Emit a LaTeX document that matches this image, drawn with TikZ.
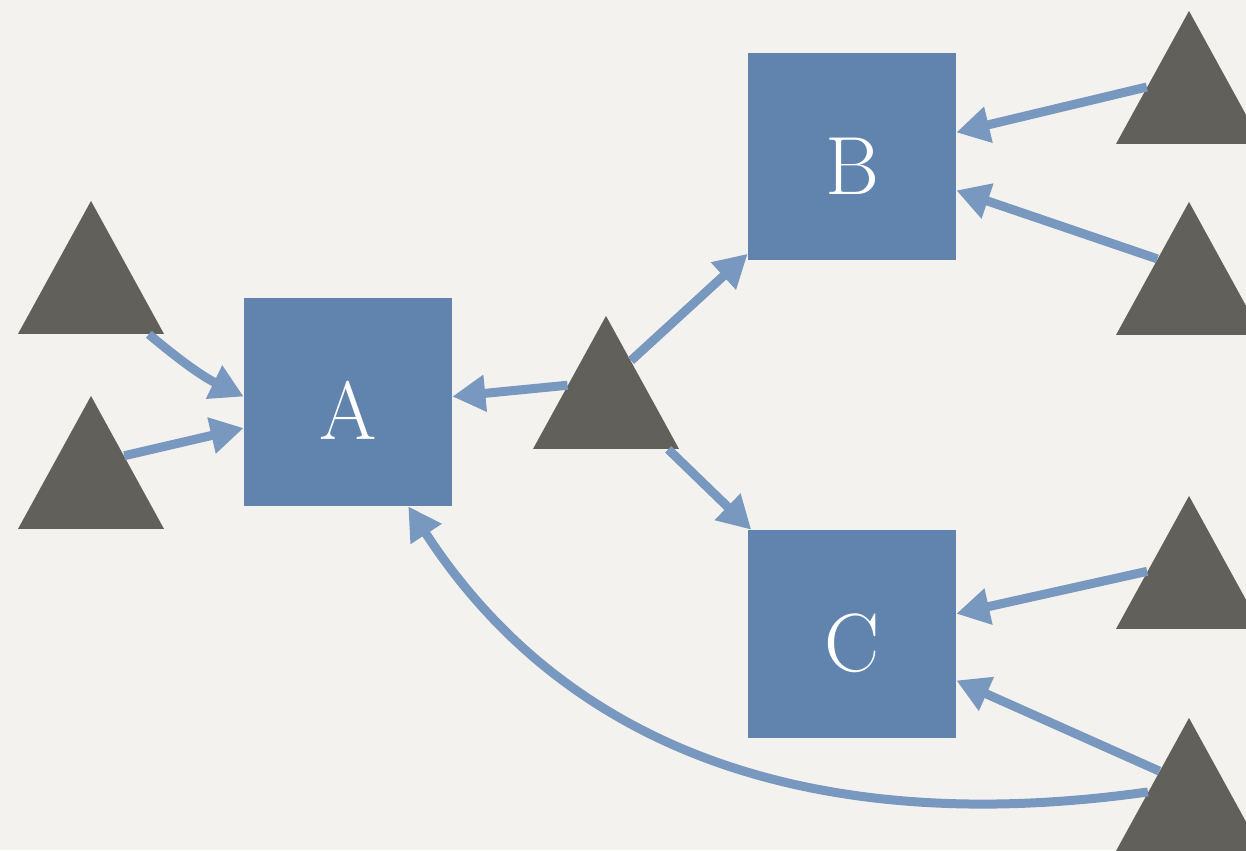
\documentclass[tikz,border=0pt]{standalone}
\usepackage{xcolor}
\definecolor{paper}{RGB}{244,242,238}
\definecolor{boxblue}{RGB}{97,132,174}
\definecolor{tridark}{RGB}{97,96,91}
\definecolor{linkblue}{RGB}{120,152,191}
\usepackage{tikz}
\usetikzlibrary{arrows.meta}
\usetikzlibrary{shapes.geometric}
\newcommand{\sidebox}{4.16cm}
\tikzset{
    box/.style={draw=none, fill=boxblue, rectangle, minimum size=\sidebox, inner sep=0pt,
        text=white, text height=1.5cm, text depth=0pt, font=\fontsize{47}{47}\selectfont},
    tri/.style={fill=tridark, isosceles triangle, shape border rotate=90,
        isosceles triangle stretches, minimum width=2.92cm, minimum height=2.66cm, inner sep=0pt},
    link/.style={linkblue, line width=0.18cm, -{Triangle[length=0.66cm, width=0.7cm]}}
}
\begin{document}
\begin{tikzpicture}[x=0.02cm, y=-0.02cm]
      \fill[paper] (0,0) rectangle (1246,850);
      \useasboundingbox (0,0) rectangle (1246,850);

      % boxes
      \node[box] (A) at (348,402) {A};
      \node[box] (B) at (852,156.5) {B};
      \node[box] (C) at (852,634) {C};

      % triangles (placed at their centroids)
      \node[tri] (L1) at (91,290.7) {};
      \node[tri] (L2) at (91,485.7) {};
      \node[tri] (M) at (606,405.7) {};
      \node[tri] (R1) at (1189,100.7) {};
      \node[tri] (R2) at (1189,291.7) {};
      \node[tri] (R3) at (1189,585.7) {};
      \node[tri] (R4) at (1189,807.7) {};

      \draw[link] (L1.-37.8) to[out=-40, in=154] (A.177.8);
      \draw[link] (L2.42.8) -- (A.194);
      \draw[link] (M.152.6) -- (A.3.8);
      \draw[link] (M.61.2) -- (B.223.4);
      \draw[link] (M.-35) -- (C.134.5);
      \draw[link] (R1.162.8) -- (B.13.3);
      \draw[link] (R2.134.4) -- (B.-18.8);
      \draw[link] (R3.161.5) -- (C.11.4);
      \draw[link] (R4.129.9) -- (C.-24.8);
      \draw[link] (R4.159) to[out=188, in=-57] (A.-60.5);

    \end{tikzpicture}
\end{document}
